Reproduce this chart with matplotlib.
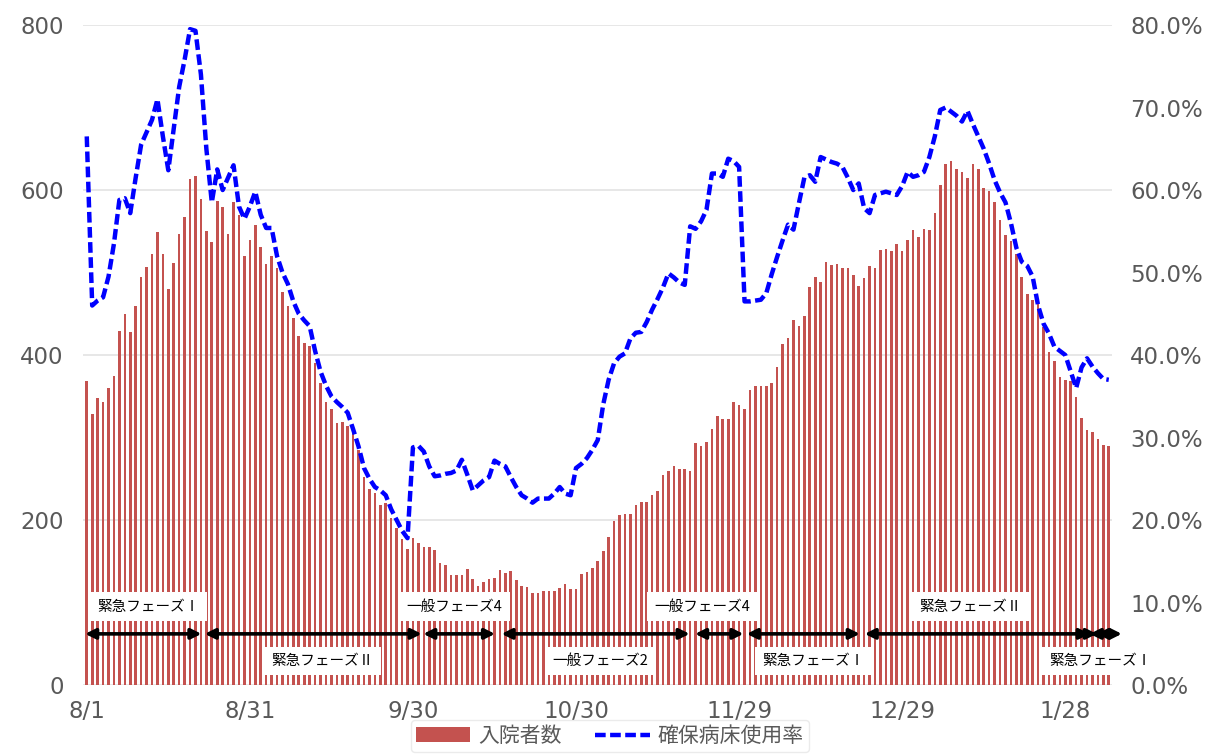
import matplotlib
matplotlib.use("Agg")
import matplotlib.pyplot as plt
from matplotlib.ticker import FuncFormatter

# daily values, day 0 = 8/1 ... day 188 = 2/5
patients = [
    369, 328, 348, 343, 360, 374, 429, 450, 428, 460,
    494, 507, 522, 549, 522, 480, 511, 547, 567, 613,
    617, 589, 550, 537, 587, 579, 547, 586, 570, 520,
    539, 558, 531, 510, 520, 505, 476, 459, 445, 423,
    415, 411, 390, 366, 343, 334, 318, 319, 314, 307,
    285, 252, 238, 233, 218, 221, 202, 190, 177, 165,
    178, 172, 167, 167, 164, 148, 146, 133, 133, 133,
    141, 128, 120, 125, 128, 130, 139, 136, 138, 127,
    120, 119, 112, 112, 114, 114, 114, 117, 122, 116,
    116, 135, 137, 142, 150, 162, 180, 199, 206, 207,
    207, 218, 222, 222, 230, 235, 255, 260, 266, 262,
    262, 259, 293, 290, 294, 310, 326, 322, 322, 343,
    339, 335, 358, 362, 362, 362, 366, 385, 413, 421,
    443, 435, 447, 483, 494, 488, 513, 509, 510, 505,
    505, 497, 484, 493, 508, 505, 527, 529, 526, 534,
    526, 539, 552, 543, 553, 552, 572, 606, 632, 635,
    625, 622, 615, 632, 626, 603, 599, 586, 564, 546,
    538, 522, 495, 474, 467, 466, 434, 404, 393, 373,
    370, 369, 349, 324, 309, 307, 298, 291, 290,
]

bed_rate = [
    66.5, 46.0, 46.6, 47.0, 49.5, 53.5, 58.8, 59.0, 57.2, 61.5,
    65.5, 67.0, 68.5, 71.0, 66.5, 62.4, 67.5, 72.5, 75.8, 79.5,
    79.3, 74.0, 65.0, 58.5, 62.5, 60.0, 61.5, 63.0, 58.0, 56.5,
    58.0, 59.8, 57.0, 55.4, 55.4, 52.0, 50.0, 48.6, 46.5, 45.0,
    44.2, 43.5, 40.5, 38.0, 36.3, 35.0, 34.3, 33.7, 33.0, 31.0,
    28.9, 26.3, 25.0, 24.0, 23.6, 23.0, 21.3, 20.0, 18.7, 17.8,
    28.8, 29.0, 28.3, 26.5, 25.3, 25.4, 25.6, 25.7, 26.0, 27.3,
    25.5, 23.6, 24.2, 24.8, 25.2, 27.2, 26.8, 26.5, 25.2, 24.0,
    23.0, 22.6, 22.1, 22.6, 22.6, 22.6, 23.2, 24.0, 23.2, 23.0,
    26.3, 26.8, 27.5, 28.5, 29.7, 34.0, 37.0, 39.0, 39.8, 40.2,
    42.0, 42.7, 42.8, 44.0, 45.5, 46.8, 48.2, 49.9, 49.4, 48.8,
    48.5, 55.6, 55.3, 56.2, 57.6, 62.0, 62.0, 61.6, 63.8, 63.5,
    62.8, 46.5, 46.5, 46.6, 46.7, 47.5, 49.8, 51.9, 53.9, 55.8,
    55.2, 58.4, 61.5, 61.8, 61.0, 64.0, 63.7, 63.4, 63.2, 62.8,
    61.5, 60.0, 60.8, 57.8, 57.2, 59.4, 59.6, 59.8, 59.6, 59.4,
    60.5, 62.2, 61.6, 61.8, 62.2, 64.0, 66.5, 69.7, 70.0, 69.5,
    69.0, 68.3, 69.6, 68.0, 66.5, 65.0, 63.2, 61.2, 59.7, 58.5,
    56.0, 53.0, 51.3, 50.8, 49.5, 46.0, 43.8, 42.6, 41.0, 40.5,
    40.0, 38.0, 36.0, 38.5, 39.6, 38.6, 37.8, 37.1, 37.0,
]

tick_days = [0, 30, 60, 90, 120, 150, 180]
tick_labels = ["8/1", "8/31", "9/30", "10/30", "11/29", "12/29", "1/28"]

phase_names = ["緊急フェーズⅠ", "緊急フェーズⅡ", "一般フェーズ4", "一般フェーズ2",
               "一般フェーズ4", "緊急フェーズⅠ", "緊急フェーズⅡ", "", "緊急フェーズⅠ"]
phase_start = [-0.3, 21.7, 61.9, 76.3, 111.9, 121.4, 143.1, 184.5, 185.8]
phase_end = [21.1, 61.6, 75.1, 110.9, 120.8, 142.2, 184.5, 185.8, 190.4]

# label placement (x in days, above/below the arrow)
label_x = [11.3, 43.3, 67.7, 94.4, 113.2, 133.6, 162.5, 185.0, 186.5]
label_above = [True, False, True, False, True, False, True, True, False]

jp = ["Noto Sans CJK JP", "DejaVu Sans"]
gray = "#595959"

fig = plt.figure(figsize=(12.2, 7.54), dpi=100)
ax = fig.add_axes([0.068, 0.0915, 0.8435, 0.8753])
days = list(range(len(patients)))

bars = ax.bar(days, patients, width=0.48, color="#C4524F", zorder=2, label="入院者数")
ax.set_xlim(-0.7, 188.6)
ax.set_ylim(0, 800)
ax.set_yticks([0, 200, 400, 600, 800])
ax.grid(axis="y", color="#E3E3E3", lw=1.2, zorder=0)
ax.set_axisbelow(True)
ax.set_xticks(tick_days)
ax.set_xticklabels(tick_labels)
ax.tick_params(axis="both", length=0, labelsize=16.5, colors=gray)
ax.tick_params(axis="y", pad=14)
ax.tick_params(axis="x", pad=11)
for s in ax.spines.values():
    s.set_visible(False)

# phase arrows and labels
arrow_y = 62
for name, x0, x1, lx, above in zip(phase_names, phase_start, phase_end, label_x, label_above):
    ax.annotate("", xy=(x1, arrow_y), xytext=(x0, arrow_y),
                arrowprops=dict(arrowstyle="<|-|>", color="black", lw=2.6,
                                mutation_scale=15, shrinkA=0, shrinkB=0),
                zorder=5, annotation_clip=False)
    if name:
        ty = 95 if above else 29
        ax.text(lx, ty, name, ha="center", va="center", fontsize=10.5,
                family=jp, zorder=4, clip_on=False,
                bbox=dict(boxstyle="square,pad=0.5", fc="white", ec="none"))

ax2 = ax.twinx()
line, = ax2.plot(days, bed_rate, color="#0000FF", lw=3.2, ls=(0, (2.4, 1.0)),
                 dash_capstyle="butt", label="確保病床使用率", zorder=6)
ax2.set_ylim(0, 80)
ax2.set_yticks(range(0, 81, 10))
ax2.yaxis.set_major_formatter(FuncFormatter(lambda v, p: f"{v:.1f}%"))
ax2.tick_params(axis="y", length=0, labelsize=16.5, colors=gray, pad=13)
for s in ax2.spines.values():
    s.set_visible(False)

leg = fig.legend([bars, line], ["入院者数", "確保病床使用率"], loc="center",
                 bbox_to_anchor=(0.5, 0.024), ncol=2, frameon=True,
                 prop={"family": jp, "size": 15}, handlelength=2.6,
                 columnspacing=1.6, handletextpad=0.4, borderpad=0.25)
leg.get_frame().set_edgecolor("#E6E6E6")
leg.get_frame().set_linewidth(1.0)
for t in leg.get_texts():
    t.set_color(gray)

fig.savefig("out.png", dpi=100)
